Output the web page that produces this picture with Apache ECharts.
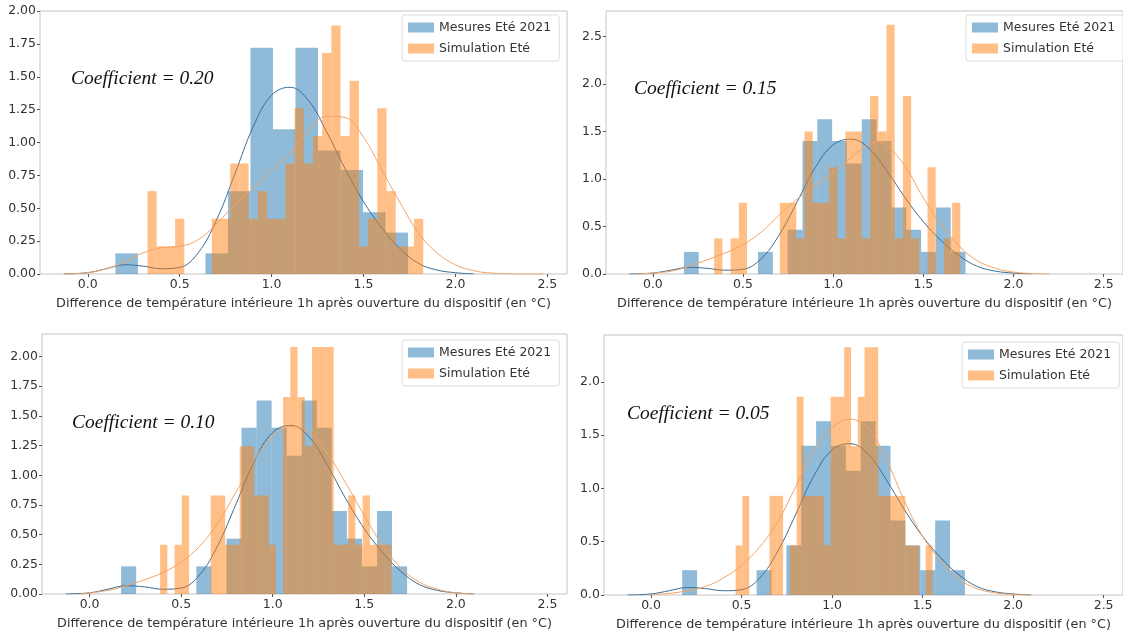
<!DOCTYPE html>
<html>
<head>
<meta charset="utf-8">
<script src="https://cdn.jsdelivr.net/npm/echarts@6/dist/echarts.min.js"></script>
<style>html,body{margin:0;padding:0;background:#fff}#c{width:1123px;height:632px}</style>
</head>
<body>
<div id="c"></div>
<script>
// ---------- DATA ----------
const seriesNames = ['Mesures Eté 2021', 'Simulation Eté'];
const coefficients = ['0.20', '0.15', '0.10', '0.05'];
const xTicks = [0, 0.5, 1.0, 1.5, 2.0, 2.5];
const yTicksP1 = [0, 0.25, 0.5, 0.75, 1.0, 1.25, 1.5, 1.75, 2.0];
const yTicksP2 = [0, 0.5, 1.0, 1.5, 2.0, 2.5];
const yTicksP3 = [0, 0.25, 0.5, 0.75, 1.0, 1.25, 1.5, 1.75, 2.0];
const yTicksP4 = [0, 0.5, 1.0, 1.5, 2.0];

// Measured histogram, panel 1 (bin start, bin width, densities)
const measStartP1 = 0.15, measWidthP1 = 0.1225;
const measHeightsP1 = [0.157, 0, 0, 0, 0.157, 0.63, 1.72, 1.10, 1.72, 0.94, 0.79, 0.47, 0.315];
// Measured histogram, panels 2-4
const measStart = 0.172, measWidth = 0.0822;
const measHeights = [0.233, 0, 0, 0, 0, 0.233, 0, 0.466, 1.40, 1.63, 1.40, 1.165, 1.63, 1.40, 0.70, 0.466, 0.233, 0.70, 0.233];

// Simulation histograms
const simStartP1 = 0.325, simWidthP1 = 0.05;
const simHeightsP1 = [0.63, 0.21, 0.21, 0.42, 0, 0, 0, 0.42, 0.42, 0.84, 0.84, 0.42, 0.63, 0.42, 0.42, 0.84, 1.26, 0.84, 1.05, 1.68, 1.89, 1.05, 1.47, 0.21, 0.42, 1.26, 0.63, 0.21, 0.21, 0.42];
const simStartP2 = 0.34, simWidthP2 = 0.0455;
const simHeightsP2 = [0.375, 0, 0.375, 0.75, 0, 0, 0, 0, 0.75, 0.75, 0.375, 1.50, 0.75, 0.75, 1.125, 0.375, 1.50, 1.50, 0.375, 1.875, 1.50, 2.625, 0.375, 1.875, 0.375, 0, 1.125, 0, 0.375, 0.75];
const simStartP3 = 0.385, simWidthP3 = 0.0395;
const simHeightsP3 = [0.415, 0, 0.415, 0.83, 0, 0, 0, 0.83, 0.83, 0.415, 0.415, 1.245, 1.245, 0.83, 0.83, 0.415, 0, 1.66, 2.08, 1.66, 1.245, 2.08, 2.08, 2.08, 0.415, 0.415, 0.83, 0.415, 0.83, 0.415, 0.415, 0.415];
const simStartP4 = 0.467, simWidthP4 = 0.0375;
const simHeightsP4 = [0.465, 0.93, 0, 0, 0, 0.93, 0.93, 0, 0.465, 1.86, 0.93, 0.93, 0.93, 0.465, 1.86, 1.86, 2.325, 1.395, 1.86, 2.325, 2.325, 0.93, 0.93, 0.93, 0.93, 0.465, 0.465, 0, 0.465];

// KDE curves [x, density]
const measKde = [[-0.13,0],[0,0.01],[0.1,0.04],[0.2,0.07],[0.3,0.06],[0.4,0.04],[0.5,0.05],[0.6,0.16],[0.7,0.41],[0.8,0.76],[0.9,1.12],[1.0,1.36],[1.1,1.42],[1.2,1.32],[1.3,1.08],[1.4,0.80],[1.5,0.55],[1.6,0.35],[1.7,0.19],[1.8,0.08],[1.9,0.03],[2.0,0.01],[2.1,0]];
const simKdeP1 = [[-0.13,0],[0,0.01],[0.1,0.04],[0.2,0.09],[0.3,0.16],[0.4,0.2],[0.5,0.21],[0.6,0.26],[0.7,0.38],[0.8,0.53],[0.9,0.65],[1.0,0.79],[1.1,0.92],[1.2,1.09],[1.3,1.2],[1.4,1.19],[1.5,1.04],[1.6,0.79],[1.7,0.54],[1.8,0.31],[1.9,0.16],[2.0,0.07],[2.1,0.025],[2.2,0.007],[2.35,0],[2.48,0]];
const simKdeP2 = [[-0.1,0],[0,0.01],[0.1,0.03],[0.2,0.08],[0.3,0.15],[0.4,0.22],[0.5,0.31],[0.6,0.44],[0.7,0.62],[0.8,0.79],[0.9,0.93],[1.0,1.07],[1.1,1.23],[1.2,1.37],[1.25,1.39],[1.3,1.35],[1.4,1.13],[1.5,0.8],[1.6,0.52],[1.7,0.29],[1.8,0.14],[1.9,0.06],[2.0,0.02],[2.1,0.005],[2.2,0]];
const simKdeP3 = [[-0.05,0],[0.1,0.03],[0.2,0.07],[0.3,0.12],[0.4,0.18],[0.5,0.27],[0.6,0.4],[0.7,0.6],[0.8,0.86],[0.9,1.13],[1.0,1.33],[1.1,1.41],[1.2,1.36],[1.3,1.18],[1.4,0.93],[1.5,0.66],[1.6,0.41],[1.7,0.22],[1.8,0.1],[1.9,0.04],[2.0,0.01],[2.1,0]];
const simKdeP4 = [[0,0.005],[0.1,0.015],[0.2,0.04],[0.3,0.08],[0.4,0.16],[0.5,0.28],[0.6,0.45],[0.7,0.69],[0.8,1.02],[0.9,1.36],[1.0,1.57],[1.1,1.65],[1.2,1.56],[1.3,1.27],[1.4,0.88],[1.5,0.55],[1.6,0.32],[1.7,0.15],[1.8,0.06],[1.9,0.02],[2.0,0.005],[2.1,0]];

// ---------- BUILD ----------
function bins(start, width, heights) {
  return heights.map((h, i) => [start + i * width, start + (i + 1) * width, h]);
}
const panels = [
  { meas: bins(measStartP1, measWidthP1, measHeightsP1), sim: bins(simStartP1, simWidthP1, simHeightsP1), simKde: simKdeP1, yMax: 2.0, yTicks: yTicksP1, dec: 2,
    grid: {left: 40, top: 11, width: 527, height: 263}, legend: {left: 402, top: 15}, note: {left: 71, top: 69} },
  { meas: bins(measStart, measWidth, measHeights), sim: bins(simStartP2, simWidthP2, simHeightsP2), simKde: simKdeP2, yMax: 2.77, yTicks: yTicksP2, dec: 1,
    grid: {left: 606, top: 11, width: 527, height: 263}, legend: {left: 966, top: 15}, note: {left: 634, top: 79} },
  { meas: bins(measStart, measWidth, measHeights), sim: bins(simStartP3, simWidthP3, simHeightsP3), simKde: simKdeP3, yMax: 2.19, yTicks: yTicksP3, dec: 2,
    grid: {left: 42, top: 334, width: 525, height: 260}, legend: {left: 402, top: 340}, note: {left: 72, top: 413} },
  { meas: bins(measStart, measWidth, measHeights), sim: bins(simStartP4, simWidthP4, simHeightsP4), simKde: simKdeP4, yMax: 2.44, yTicks: yTicksP4, dec: 1,
    grid: {left: 604, top: 335, width: 529, height: 262}, legend: {left: 962, top: 342}, note: {left: 627, top: 404} }
];

const BLUE_LINE = '#3b6d94', ORANGE_LINE = '#f2a365';
const BLUE_FILL = 'rgba(31,119,180,0.5)', ORANGE_FILL = 'rgba(255,127,14,0.5)';
const FONT = 'DejaVu Sans';

function histRender(params, api) {
  const a = api.coord([api.value(0), api.value(2)]);
  const b = api.coord([api.value(1), 0]);
  return { type: 'rect', shape: { x: a[0], y: a[1], width: b[0] - a[0], height: b[1] - a[1] },
           style: { fill: api.visual('color') } };
}

const option = {
  animation: false,
  backgroundColor: '#fff',
  grid: [], xAxis: [], yAxis: [], series: [], legend: [], graphic: []
};

panels.forEach((p, i) => {
  option.grid.push(Object.assign({ show: true, borderColor: '#c4c4c4', borderWidth: 1, backgroundColor: 'transparent', containLabel: false }, p.grid));
  option.xAxis.push({
    type: 'value', gridIndex: i, min: -0.26, max: 2.607,
    axisLine: { show: false, onZero: false }, splitLine: { show: false },
    axisTick: { show: true, customValues: xTicks, length: 3, lineStyle: { color: '#555' } },
    axisLabel: { customValues: xTicks, formatter: v => v.toFixed(1), fontSize: 12.5, color: '#333', fontFamily: FONT, margin: 4 },
    name: 'Difference de température intérieure 1h après ouverture du dispositif (en °C)',
    nameLocation: 'middle', nameGap: 23,
    nameTextStyle: { fontSize: 12.8, color: '#333', fontFamily: FONT }
  });
  option.yAxis.push({
    type: 'value', gridIndex: i, min: 0, max: p.yMax,
    axisLine: { show: false, onZero: false }, splitLine: { show: false },
    axisTick: { show: true, customValues: p.yTicks, length: 3, lineStyle: { color: '#555' } },
    axisLabel: { customValues: p.yTicks, formatter: v => v.toFixed(p.dec), fontSize: 12.5, color: '#333', fontFamily: FONT, margin: 4 }
  });
  option.series.push({
    type: 'custom', name: seriesNames[0], xAxisIndex: i, yAxisIndex: i,
    renderItem: histRender, itemStyle: { color: BLUE_FILL }, encode: { x: [0, 1], y: 2 }, data: p.meas, z: 1
  });
  option.series.push({
    type: 'line', name: 'kde-mesures', xAxisIndex: i, yAxisIndex: i, data: measKde,
    showSymbol: false, smooth: 0.4, lineStyle: { color: BLUE_LINE, width: 1 }, itemStyle: { color: BLUE_LINE }, z: 2
  });
  option.series.push({
    type: 'custom', name: seriesNames[1], xAxisIndex: i, yAxisIndex: i,
    renderItem: histRender, itemStyle: { color: ORANGE_FILL }, encode: { x: [0, 1], y: 2 }, data: p.sim, z: 3
  });
  option.series.push({
    type: 'line', name: 'kde-simulation', xAxisIndex: i, yAxisIndex: i, data: p.simKde,
    showSymbol: false, smooth: 0.4, lineStyle: { color: ORANGE_LINE, width: 1 }, itemStyle: { color: ORANGE_LINE }, z: 4
  });
  option.legend.push({
    data: seriesNames, orient: 'vertical', left: p.legend.left, top: p.legend.top,
    icon: 'rect', itemWidth: 26, itemHeight: 10, itemGap: 8,
    backgroundColor: 'rgba(255,255,255,0.85)', borderColor: '#dcdcdc', borderWidth: 1, borderRadius: 3,
    padding: [6, 8, 6, 6], selectedMode: false,
    textStyle: { fontSize: 12.5, color: '#333', fontFamily: FONT }
  });
  option.graphic.push({
    type: 'text', left: p.note.left, top: p.note.top, z: 10,
    style: { text: 'Coefficient = ' + coefficients[i], font: 'italic 19.5px "Liberation Serif"', fill: '#111' }
  });
});

const chart = echarts.init(document.getElementById('c'), null, { renderer: 'canvas' });
chart.setOption(option);
</script>
</body>
</html>
